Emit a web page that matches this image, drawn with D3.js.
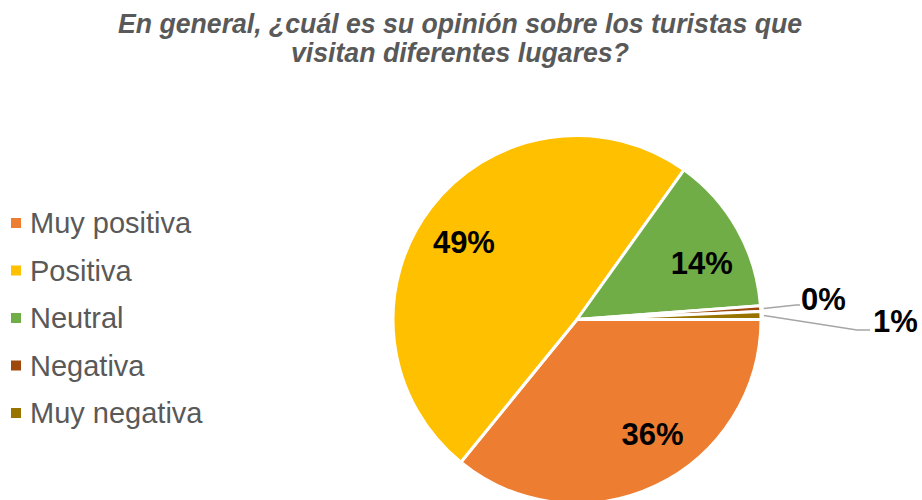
<!DOCTYPE html>
<html>
<head>
<meta charset="utf-8">
<script src="https://cdn.jsdelivr.net/npm/d3@7"></script>
<style>
  body { margin: 0; background: #fff; }
  svg { display: block; font-family: "Liberation Sans", Arial, sans-serif; }
</style>
</head>
<body>
<svg width="922" height="500"></svg>
<script>
// data
let categories = ['Muy positiva', 'Positiva', 'Neutral', 'Negativa', 'Muy negativa'];
let values = [35.8, 48.9, 13.9, 0.49, 0.7];
let labels = ['36%', '49%', '14%', '0%', '1%'];
let colors = ['#ED7D31', '#FFC000', '#70AD47', '#9E480E', '#997300'];

let width = 922;
let height = 500;
let cx = 577;
let cy = 319.5;
let radius = 184;

// small nudges (degrees) that place the inside labels like the original
let labelShift = [-8, -3, 5];

const svg = d3.select('svg');

// title
let titleLines = [
  { text: 'En general, ¿cuál es su opinión sobre los turistas que', y: 33, len: 684 },
  { text: 'visitan diferentes lugares?', y: 62, len: 338 }
];
svg.selectAll('.title')
  .data(titleLines)
  .enter()
  .append('text')
  .attr('class', 'title')
  .attr('x', 460)
  .attr('y', d => d.y)
  .attr('text-anchor', 'middle')
  .attr('textLength', d => d.len)
  .attr('lengthAdjust', 'spacingAndGlyphs')
  .style('font-size', '27px')
  .style('font-weight', 'bold')
  .style('font-style', 'italic')
  .style('fill', '#595959')
  .text(d => d.text);

// pie
let rows = categories.map((c, i) => ({ name: c, value: values[i], label: labels[i], color: colors[i] }));

let pie = d3.pie()
  .value(d => d.value)
  .sort(null)
  .startAngle(Math.PI / 2)
  .endAngle(Math.PI / 2 + 2 * Math.PI);

let arc = d3.arc().innerRadius(0).outerRadius(radius);
let edgeArc = d3.arc().innerRadius(radius).outerRadius(radius);

let arcs = pie(rows);

let g = svg.append('g').attr('transform', 'translate(' + cx + ',' + cy + ')');

g.selectAll('path.slice')
  .data(arcs)
  .enter()
  .append('path')
  .attr('class', 'slice')
  .attr('d', arc)
  .attr('fill', d => d.data.color)
  .attr('stroke', '#fff')
  .attr('stroke-width', 3)
  .attr('stroke-linejoin', 'round');

// labels inside the big slices
let labelPos = (d, i) => {
  let a = (d.startAngle + d.endAngle) / 2 + labelShift[i] * Math.PI / 180;
  let r = 137;
  return [r * Math.sin(a), -r * Math.cos(a)];
};

g.selectAll('text.inner')
  .data(arcs.slice(0, 3))
  .enter()
  .append('text')
  .attr('class', 'inner')
  .attr('transform', (d, i) => 'translate(' + labelPos(d, i) + ')')
  .attr('text-anchor', 'middle')
  .attr('dy', '0.36em')
  .style('font-size', '31px')
  .style('font-weight', 'bold')
  .style('fill', '#000')
  .text(d => d.data.label);

// outside labels with leader lines for the thin slices
let outside = [
  { bend: [796, 305], end: [800, 305], tx: 801, ty: 310 },
  { bend: [857, 330], end: [870, 330], tx: 873, ty: 332 }
];
arcs.slice(3).forEach((d, i) => {
  let p = edgeArc.centroid(d);
  let o = outside[i];
  let pts = [[cx + p[0] + 3, cy + p[1]], o.bend, o.end];
  svg.append('path')
    .attr('d', d3.line()(pts))
    .attr('fill', 'none')
    .attr('stroke', '#A6A6A6')
    .attr('stroke-width', 1.5);
  svg.append('text')
    .attr('x', o.tx)
    .attr('y', o.ty)
    .style('font-size', '31px')
    .style('font-weight', 'bold')
    .style('fill', '#000')
    .text(d.data.label);
});

// legend
let legend = svg.selectAll('.legend')
  .data(rows)
  .enter()
  .append('g')
  .attr('class', 'legend')
  .attr('transform', (d, i) => 'translate(11,' + (233 + i * 47.5) + ')');

legend.append('rect')
  .attr('x', 0)
  .attr('y', -15)
  .attr('width', 10)
  .attr('height', 10)
  .attr('fill', d => d.color);

legend.append('text')
  .attr('x', 19)
  .attr('y', 0)
  .style('font-size', '29px')
  .style('fill', '#595959')
  .text(d => d.name);
</script>
</body>
</html>
